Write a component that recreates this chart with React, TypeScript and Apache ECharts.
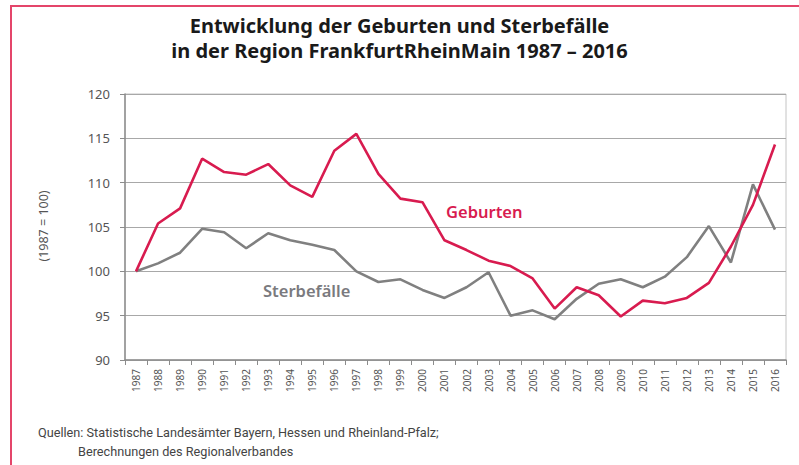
import React, { useEffect, useRef } from "react";
import * as echarts from "echarts";

const years = [
  "1987", "1988", "1989", "1990", "1991", "1992", "1993", "1994", "1995", "1996",
  "1997", "1998", "1999", "2000", "2001", "2002", "2003", "2004", "2005", "2006",
  "2007", "2008", "2009", "2010", "2011", "2012", "2013", "2014", "2015", "2016",
];

const geburten = [
  100, 105.4, 107.1, 112.7, 111.2, 110.9, 112.1, 109.7, 108.4, 113.6,
  115.5, 111.0, 108.2, 107.8, 103.5, 102.4, 101.2, 100.6, 99.2, 95.8,
  98.2, 97.3, 94.9, 96.7, 96.4, 97.0, 98.7, 102.8, 107.5, 114.3,
];

const sterbefaelle = [
  100, 100.9, 102.1, 104.8, 104.4, 102.6, 104.3, 103.5, 103.0, 102.4,
  100.0, 98.8, 99.1, 97.9, 97.0, 98.2, 99.9, 95.0, 95.6, 94.6,
  96.9, 98.6, 99.1, 98.2, 99.4, 101.6, 105.1, 101.0, 109.8, 104.7,
];

const yTicks = { min: 90, max: 120, interval: 5 };

const titleLines = [
  "Entwicklung der Geburten und Sterbefälle",
  "in der Region FrankfurtRheinMain 1987 – 2016",
];
const yAxisName = "(1987 = 100)";
const sourceLines = [
  "Quellen: Statistische Landesämter Bayern, Hessen und Rheinland-Pfalz;",
  "Berechnungen des Regionalverbandes",
];

const RED = "#d81b4f";
const GRAY = "#808080";
const FONT = "'Noto Sans', 'Open Sans', sans-serif";

export default function App() {
  const ref = useRef<HTMLDivElement>(null);

  useEffect(() => {
    if (!ref.current) return;
    const chart = echarts.init(ref.current, undefined, { renderer: "svg" });
    chart.setOption({
      animation: false,
      backgroundColor: "#ffffff",
      textStyle: { fontFamily: FONT },
      title: {
        text: titleLines.join("\n"),
        left: "center",
        top: 8,
        textStyle: {
          fontFamily: FONT,
          fontSize: 20,
          fontWeight: "bold",
          color: "#1a1a1a",
          lineHeight: 25,
        },
      },
      grid: {
        left: 125,
        right: 13,
        top: 94,
        bottom: 105,
        show: true,
        borderColor: "#c4c4c4",
        borderWidth: 1,
        backgroundColor: "transparent",
      },
      xAxis: {
        type: "category",
        data: years,
        boundaryGap: true,
        axisLine: { lineStyle: { color: "#8c8c8c", width: 1.5 } },
        axisTick: { show: true, length: 5, lineStyle: { color: "#8c8c8c" } },
        axisLabel: {
          rotate: 90,
          fontSize: 10,
          color: "#555",
          margin: 9,
          interval: 0,
          fontFamily: FONT,
        },
        splitLine: { show: false },
      },
      yAxis: {
        type: "value",
        min: yTicks.min,
        max: yTicks.max,
        interval: yTicks.interval,
        axisLine: { show: true, lineStyle: { color: "#8c8c8c", width: 1.5 } },
        axisTick: { show: true, inside: false, length: 5, lineStyle: { color: "#8c8c8c" } },
        axisLabel: { fontSize: 13, color: "#555", margin: 15, fontFamily: FONT },
        splitLine: { show: true, lineStyle: { color: "#a8a8a8", width: 1 } },
      },
      series: [
        {
          name: "Sterbefälle",
          type: "line",
          data: sterbefaelle,
          symbol: "none",
          lineStyle: { color: GRAY, width: 2.6 },
          itemStyle: { color: GRAY },
          z: 2,
        },
        {
          name: "Geburten",
          type: "line",
          data: geburten,
          symbol: "none",
          lineStyle: { color: RED, width: 2.6 },
          itemStyle: { color: RED },
          z: 3,
        },
      ],
      graphic: [
        {
          type: "polyline",
          shape: { points: [[11, 465], [11, 6], [799, 6]] },
          style: { stroke: "#e4456a", lineWidth: 2, fill: null },
          silent: true,
        },
        {
          type: "text",
          x: 43,
          y: 226,
          rotation: Math.PI / 2,
          style: {
            text: yAxisName,
            fontSize: 12.5,
            fill: "#555",
            fontFamily: FONT,
            align: "center",
            verticalAlign: "middle",
          },
        },
        {
          type: "text",
          x: 446,
          y: 211,
          style: {
            text: "Geburten",
            fontSize: 16.5,
            fontWeight: 600,
            fill: RED,
            fontFamily: FONT,
            align: "left",
            verticalAlign: "middle",
          },
        },
        {
          type: "text",
          x: 263,
          y: 290,
          style: {
            text: "Sterbefälle",
            fontSize: 16.5,
            fontWeight: 600,
            fill: "#7a7a7e",
            fontFamily: FONT,
            align: "left",
            verticalAlign: "middle",
          },
        },
        {
          type: "text",
          x: 38,
          y: 432,
          style: {
            text: sourceLines[0],
            fontSize: 12.7,
            fill: "#444",
            fontFamily: "'Roboto', sans-serif",
            align: "left",
            verticalAlign: "middle",
          },
        },
        {
          type: "text",
          x: 78,
          y: 451,
          style: {
            text: sourceLines[1],
            fontSize: 12.7,
            fill: "#444",
            fontFamily: "'Roboto', sans-serif",
            align: "left",
            verticalAlign: "middle",
          },
        },
      ],
    });
    return () => chart.dispose();
  }, []);

  return (
    <div
      ref={ref}
      style={{ position: "absolute", left: 0, top: 0, width: 799, height: 465 }}
    />
  );
}
